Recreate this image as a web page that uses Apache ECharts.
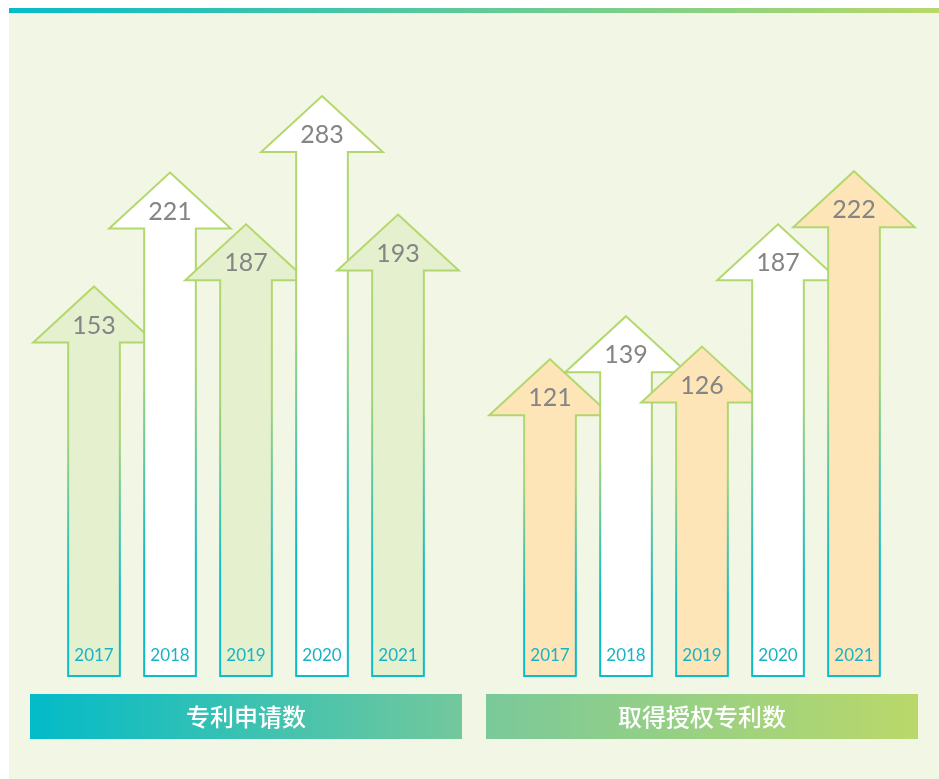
<!DOCTYPE html>
<html>
<head>
<meta charset="utf-8">
<script src="https://cdn.jsdelivr.net/npm/echarts@6/dist/echarts.min.js"></script>
<style>
  html, body { margin: 0; padding: 0; background: #fff; }
  #chart-holder { width: 939px; height: 779px; }
</style>
</head>
<body>
<div id="chart-holder"></div>
<script>
// Data.
var years = ['2017', '2018', '2019', '2020', '2021'];
var appliedCounts = [153, 221, 187, 283, 193];
var grantedCounts = [121, 139, 126, 187, 222];
var appliedTitle = '专利申请数';
var grantedTitle = '取得授权专利数';

var dom = document.getElementById('chart-holder');
var myChart = echarts.init(dom, null, { renderer: 'canvas' });

// Stroke goes from green at the head down to teal at the foot.
var strokeGradient = {
  type: 'linear', x: 0, y: 0, x2: 0, y2: 1,
  colorStops: [
    { offset: 0, color: '#b6d86b' },
    { offset: 0.38, color: '#aad574' },
    { offset: 0.78, color: '#0dbcc8' },
    { offset: 1, color: '#0bbcc9' },
  ],
};

function makeArrowRenderer(fillColor) {
  return function (params, api) {
    var tip = api.coord([api.value(0), api.value(1)]);
    var cs = params.coordSys;
    var bottom = cs.y + cs.height;
    var band = api.size([1, 0])[0];
    var shaft = band * 0.34;
    var wing = band * 0.8;
    var headH = 56;
    var cx = tip[0];
    var ty = tip[1];
    var pts = [
      [cx, ty],
      [cx + wing, ty + headH],
      [cx + shaft, ty + headH],
      [cx + shaft, bottom],
      [cx - shaft, bottom],
      [cx - shaft, ty + headH],
      [cx - wing, ty + headH],
    ];
    return {
      type: 'group',
      children: [
        {
          type: 'polygon',
          shape: { points: pts },
          style: {
            fill: params.dataIndex % 2 === 0 ? fillColor : '#ffffff',
            stroke: strokeGradient,
            lineWidth: 2,
            lineJoin: 'miter',
          },
        },
        {
          type: 'text',
          style: {
            text: String(api.value(1)),
            x: cx,
            y: ty + 39,
            align: 'center',
            verticalAlign: 'middle',
            fill: '#858585',
            fontSize: 25,
            fontFamily: 'Lato',
          },
        },
        {
          type: 'text',
          style: {
            text: years[api.value(0)],
            x: cx,
            y: bottom - 20,
            align: 'center',
            verticalAlign: 'middle',
            fill: '#17b3c6',
            fontSize: 17,
            fontFamily: 'Lato',
          },
        },
      ],
    };
  };
}

function toData(values) {
  return values.map(function (v, i) {
    return [i, v];
  });
}

var option = {
  backgroundColor: '#ffffff',
  animation: false,
  graphic: [
    { type: 'rect', z: -10, shape: { x: 9, y: 13, width: 930, height: 766 }, style: { fill: '#f2f6e5' } },
    {
      type: 'rect', z: -10,
      shape: { x: 9, y: 8, width: 930, height: 5 },
      style: {
        fill: {
          type: 'linear', x: 0, y: 0, x2: 1, y2: 0,
          colorStops: [
            { offset: 0, color: '#06bbc8' },
            { offset: 1, color: '#b9d86a' },
          ],
        },
      },
    },
    {
      type: 'rect',
      shape: { x: 30, y: 694, width: 432, height: 45 },
      style: {
        fill: {
          type: 'linear', x: 0, y: 0, x2: 1, y2: 0,
          colorStops: [
            { offset: 0, color: '#03bbc8' },
            { offset: 1, color: '#73c89c' },
          ],
        },
      },
    },
    {
      type: 'text',
      style: {
        text: appliedTitle, x: 246, y: 717, align: 'center', verticalAlign: 'middle',
        fill: '#ffffff', fontSize: 24, fontWeight: 500, fontFamily: 'Noto Sans CJK SC',
      },
    },
    {
      type: 'rect',
      shape: { x: 486, y: 694, width: 432, height: 45 },
      style: {
        fill: {
          type: 'linear', x: 0, y: 0, x2: 1, y2: 0,
          colorStops: [
            { offset: 0, color: '#7ac99a' },
            { offset: 1, color: '#bad86a' },
          ],
        },
      },
    },
    {
      type: 'text',
      style: {
        text: grantedTitle, x: 702, y: 717, align: 'center', verticalAlign: 'middle',
        fill: '#ffffff', fontSize: 24, fontWeight: 500, fontFamily: 'Noto Sans CJK SC',
      },
    },
  ],
  grid: [
    { left: 56, top: 96, width: 380, height: 580 },
    { left: 512, top: 96, width: 380, height: 580 },
  ],
  xAxis: [
    { type: 'category', gridIndex: 0, data: years, show: false },
    { type: 'category', gridIndex: 1, data: years, show: false },
  ],
  yAxis: [
    { type: 'log', gridIndex: 0, min: 43.5, max: 283, show: false },
    { type: 'log', gridIndex: 1, min: 43.5, max: 283, show: false },
  ],
  series: [
    {
      type: 'custom',
      name: appliedTitle,
      xAxisIndex: 0,
      yAxisIndex: 0,
      clip: false,
      renderItem: makeArrowRenderer('#e5f0cf'),
      encode: { x: 0, y: 1 },
      data: toData(appliedCounts),
    },
    {
      type: 'custom',
      name: grantedTitle,
      xAxisIndex: 1,
      yAxisIndex: 1,
      clip: false,
      renderItem: makeArrowRenderer('#fde5b8'),
      encode: { x: 0, y: 1 },
      data: toData(grantedCounts),
    },
  ],
};

myChart.setOption(option);
</script>
</body>
</html>
